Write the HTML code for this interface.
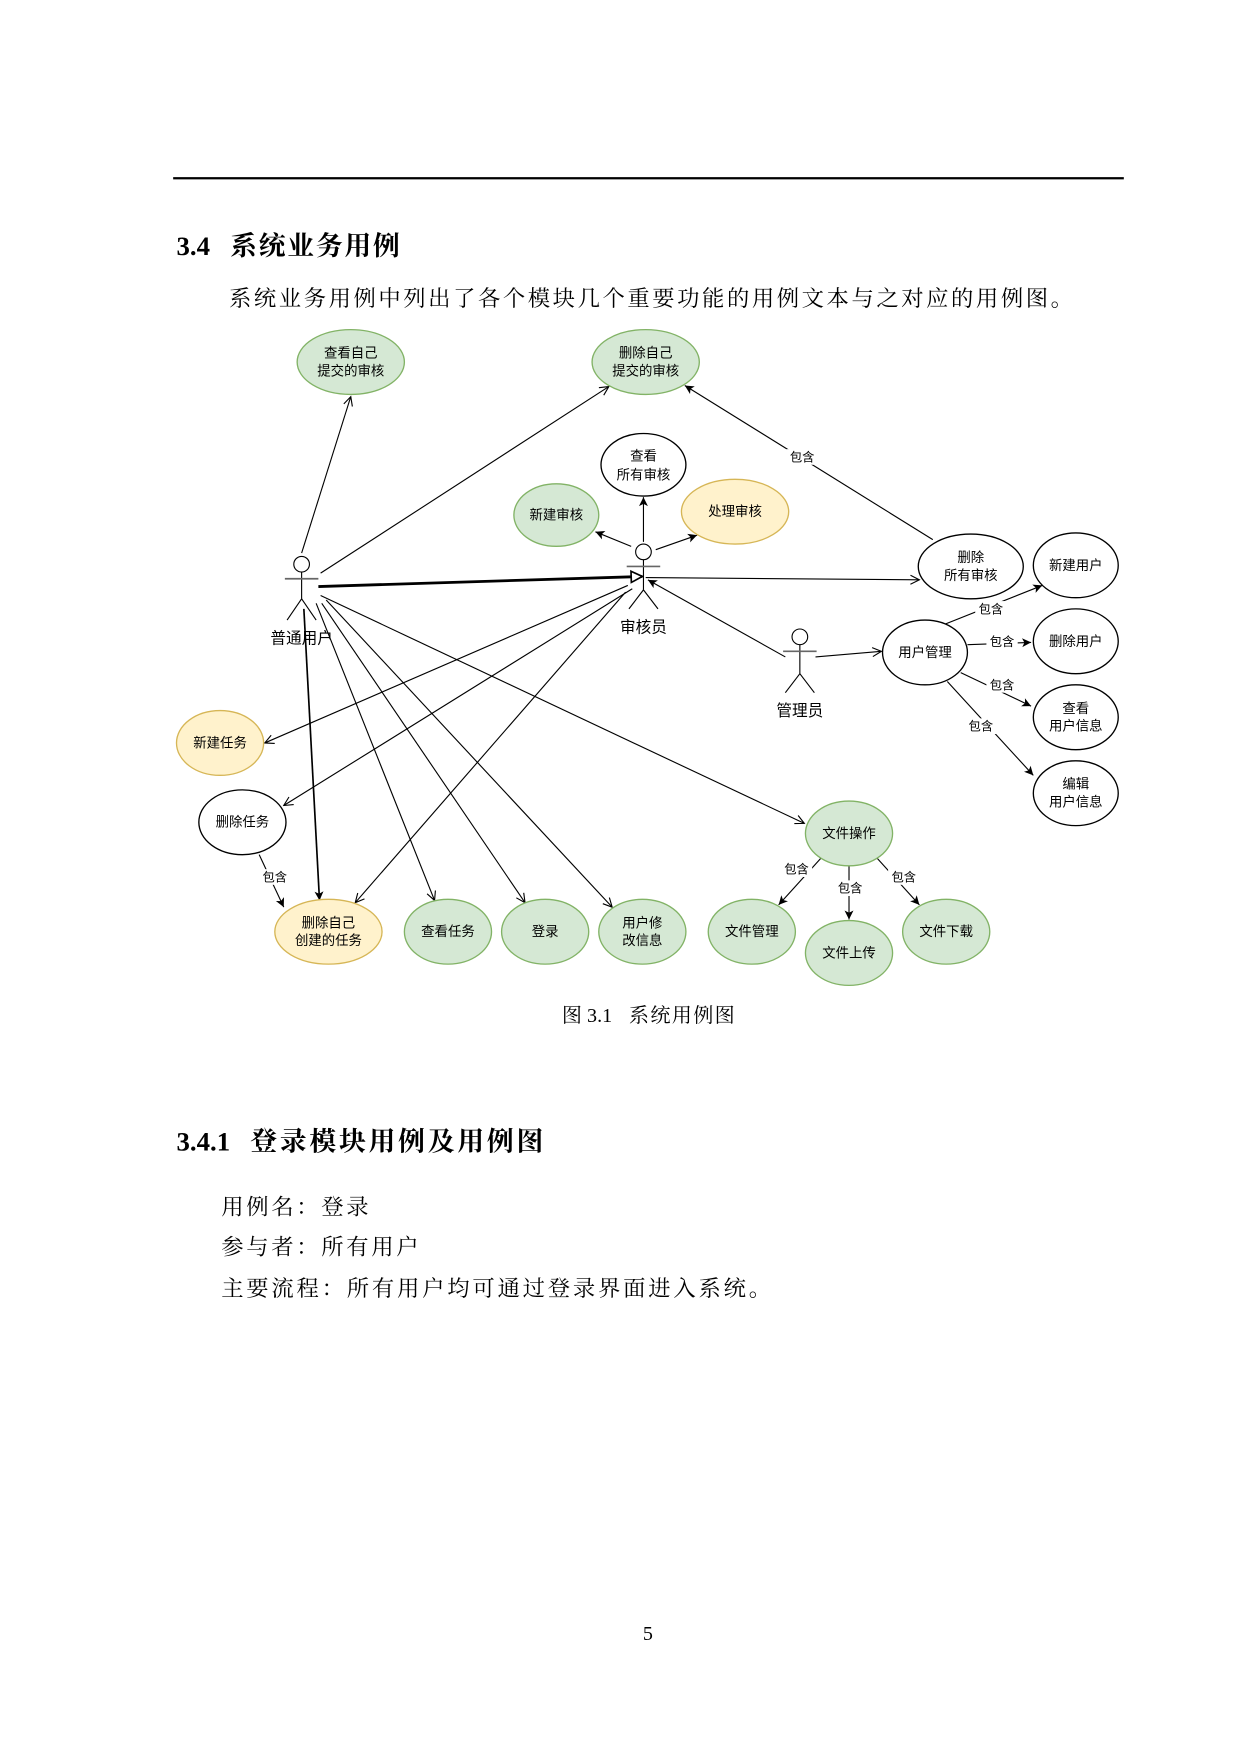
<!DOCTYPE html>
<html><head><meta charset="utf-8"><style>
html,body{margin:0;padding:0;background:#fff;}
svg{display:block;}
text{font-family:"Liberation Serif","Noto Serif CJK SC","Noto Sans CJK SC",serif;fill:#000;white-space:pre;}
.n{font-family:"Liberation Sans","Noto Sans CJK SC",sans-serif;font-size:12px;text-anchor:middle;}
.l{font-family:"Liberation Sans","Noto Sans CJK SC",sans-serif;font-size:11px;text-anchor:middle;}
.g{fill:#d5e8d4;stroke:#82b366;stroke-width:1.2;}
.y{fill:#fff2cc;stroke:#d6b656;stroke-width:1.2;}
.w{fill:#fff;stroke:#000;stroke-width:1.2;}
.e{stroke:#000;stroke-width:1;fill:none;}
</style></head><body>
<svg width="1240" height="1754" viewBox="0 0 1110 1570" xmlns="http://www.w3.org/2000/svg" xml:space="preserve">
<defs>
<marker id="a" markerWidth="10" markerHeight="10" refX="9" refY="5" orient="auto" markerUnits="userSpaceOnUse"><path d="M1,1 L9,5 L1,9" fill="none" stroke="#000" stroke-width="1"/></marker>
<marker id="f" markerWidth="10" markerHeight="10" refX="9" refY="5" orient="auto" markerUnits="userSpaceOnUse"><path d="M1,1 L9,5 L1,9 L3,5 Z" fill="#000"/></marker>
<marker id="t" markerWidth="14" markerHeight="14" refX="12" refY="7" orient="auto" markerUnits="userSpaceOnUse"><path d="M2,2 L12,7 L2,12 Z" fill="#fff" stroke="#000" stroke-width="1.5"/></marker>
</defs>
<line x1="155" y1="159.5" x2="1006" y2="159.5" stroke="#000" stroke-width="2"/>
<text x="158" y="228" font-size="24" font-weight="bold">3.4</text><text x="206" y="228" font-size="24" font-weight="bold" letter-spacing="1.6">系统业务用例</text>
<text x="205" y="274" font-size="20" letter-spacing="2.3">系统业务用例中列出了各个模块几个重要功能的用例文本与之对应的用例图。</text>

<g class="e">
<line x1="270" y1="495" x2="314" y2="355" marker-end="url(#a)"/>
<line x1="287" y1="513" x2="545" y2="346" marker-end="url(#a)"/>
<line x1="835" y1="483" x2="613" y2="345" marker-end="url(#f)"/>
<line x1="285" y1="525" x2="575" y2="516" stroke-width="2.5" marker-end="url(#t)"/>
<line x1="578" y1="517" x2="823" y2="519" marker-end="url(#a)"/>
<line x1="576" y1="485" x2="576" y2="445" marker-end="url(#f)"/>
<line x1="565" y1="489" x2="533" y2="476" marker-end="url(#f)"/>
<line x1="587" y1="492" x2="624" y2="479" marker-end="url(#f)"/>
<line x1="703" y1="588" x2="580" y2="519" marker-end="url(#f)"/>
<line x1="730" y1="588" x2="789" y2="583" marker-end="url(#a)"/>
<line x1="835" y1="563" x2="933" y2="524" marker-end="url(#f)"/>
<line x1="866" y1="577" x2="923" y2="575" marker-end="url(#f)"/>
<line x1="860" y1="602" x2="923" y2="632" marker-end="url(#f)"/>
<line x1="848" y1="610" x2="925" y2="694" marker-end="url(#f)"/>
<line x1="562" y1="524" x2="237" y2="665" marker-end="url(#a)"/>
<line x1="566" y1="527" x2="254" y2="721" marker-end="url(#a)"/>
<line x1="560" y1="530" x2="318" y2="808" marker-end="url(#a)"/>
<line x1="272" y1="545" x2="286" y2="806" stroke-width="1.5" marker-end="url(#f)"/>
<line x1="283" y1="540" x2="389" y2="806" marker-end="url(#a)"/>
<line x1="288" y1="540" x2="470" y2="808" marker-end="url(#a)"/>
<line x1="292" y1="537" x2="548" y2="812" marker-end="url(#a)"/>
<line x1="287" y1="533" x2="720" y2="737" marker-end="url(#a)"/>
<line x1="232" y1="765" x2="254" y2="812" marker-end="url(#f)"/>
<line x1="735" y1="768" x2="697" y2="810" marker-end="url(#f)"/>
<line x1="760" y1="775" x2="760" y2="823" marker-end="url(#f)"/>
<line x1="785" y1="768" x2="823" y2="810" marker-end="url(#f)"/>
</g>
<g fill="#fff">
<rect x="704" y="402" width="28" height="14"/><text class="l" x="718" y="413">包含</text>
<rect x="873" y="538" width="28" height="14"/><text class="l" x="887" y="549">包含</text>
<rect x="883" y="567" width="28" height="14"/><text class="l" x="897" y="578">包含</text>
<rect x="883" y="606" width="28" height="14"/><text class="l" x="897" y="617">包含</text>
<rect x="864" y="643" width="28" height="14"/><text class="l" x="878" y="654">包含</text>
<rect x="232" y="778" width="28" height="14"/><text class="l" x="246" y="789">包含</text>
<rect x="699" y="771" width="28" height="14"/><text class="l" x="713" y="782">包含</text>
<rect x="747" y="788" width="28" height="14"/><text class="l" x="761" y="799">包含</text>
<rect x="795" y="778" width="28" height="14"/><text class="l" x="809" y="789">包含</text>
</g>

<ellipse class="g" cx="314" cy="324" rx="48" ry="29"/><text class="n" x="314" y="320">查看自己</text><text class="n" x="314" y="336">提交的审核</text>
<ellipse class="g" cx="578" cy="324" rx="48" ry="29"/><text class="n" x="578" y="320">删除自己</text><text class="n" x="578" y="336">提交的审核</text>
<ellipse class="w" cx="576" cy="416" rx="38" ry="28"/><text class="n" x="576" y="412">查看</text><text class="n" x="576" y="429">所有审核</text>
<ellipse class="g" cx="498" cy="461" rx="38" ry="28"/><text class="n" x="498" y="465">新建审核</text>
<ellipse class="y" cx="658" cy="458" rx="48" ry="29"/><text class="n" x="658" y="462">处理审核</text>
<ellipse class="w" cx="869" cy="507" rx="47" ry="29"/><text class="n" x="869" y="503">删除</text><text class="n" x="869" y="519">所有审核</text>
<ellipse class="w" cx="963" cy="506" rx="38" ry="29"/><text class="n" x="963" y="510">新建用户</text>
<ellipse class="w" cx="828" cy="584" rx="38" ry="29"/><text class="n" x="828" y="588">用户管理</text>
<ellipse class="w" cx="963" cy="574" rx="38" ry="29"/><text class="n" x="963" y="578">删除用户</text>
<ellipse class="w" cx="963" cy="642" rx="38" ry="29"/><text class="n" x="963" y="638">查看</text><text class="n" x="963" y="654">用户信息</text>
<ellipse class="w" cx="963" cy="710" rx="38" ry="29"/><text class="n" x="963" y="706">编辑</text><text class="n" x="963" y="722">用户信息</text>
<ellipse class="g" cx="760" cy="746" rx="39" ry="29"/><text class="n" x="760" y="750">文件操作</text>
<ellipse class="g" cx="673" cy="834" rx="39" ry="29"/><text class="n" x="673" y="838">文件管理</text>
<ellipse class="g" cx="760" cy="853" rx="39" ry="29"/><text class="n" x="760" y="857">文件上传</text>
<ellipse class="g" cx="847" cy="834" rx="39" ry="29"/><text class="n" x="847" y="838">文件下载</text>
<ellipse class="y" cx="197" cy="665" rx="39" ry="29"/><text class="n" x="197" y="669">新建任务</text>
<ellipse class="w" cx="217" cy="736" rx="39" ry="29"/><text class="n" x="217" y="740">删除任务</text>
<ellipse class="y" cx="294" cy="834" rx="48" ry="29"/><text class="n" x="294" y="830">删除自己</text><text class="n" x="294" y="846">创建的任务</text>
<ellipse class="g" cx="401" cy="834" rx="39" ry="29"/><text class="n" x="401" y="838">查看任务</text>
<ellipse class="g" cx="488" cy="834" rx="39" ry="29"/><text class="n" x="488" y="838">登录</text>
<ellipse class="g" cx="575" cy="834" rx="39" ry="29"/><text class="n" x="575" y="830">用户修</text><text class="n" x="575" y="846">改信息</text>

<g stroke="#000" stroke-width="1" fill="#fff">
<circle cx="270" cy="505" r="7"/><line x1="270" y1="512" x2="270" y2="536"/><line x1="255" y1="518" x2="285" y2="518" stroke="#666" stroke-width="1.5"/><line x1="270" y1="536" x2="257" y2="555"/><line x1="270" y1="536" x2="283" y2="555"/>
<circle cx="576" cy="494" r="7"/><line x1="576" y1="501" x2="576" y2="528"/><line x1="561" y1="507" x2="591" y2="507" stroke="#666" stroke-width="1.5"/><line x1="576" y1="528" x2="563" y2="545"/><line x1="576" y1="528" x2="589" y2="545"/>
<circle cx="716" cy="570" r="7"/><line x1="716" y1="577" x2="716" y2="603"/><line x1="701" y1="583" x2="731" y2="583" stroke="#666" stroke-width="1.5"/><line x1="716" y1="603" x2="703" y2="620"/><line x1="716" y1="603" x2="729" y2="620"/>
</g>
<text class="n" style="font-size:14px" x="270" y="576">普通用户</text>
<text class="n" style="font-size:14px" x="576" y="566">审核员</text>
<text class="n" style="font-size:14px" x="716" y="641">管理员</text>

<text x="503" y="915" font-size="18">图 3.1</text><text x="563" y="915" font-size="18" letter-spacing="1.2">系统用例图</text>
<text x="158" y="1030" font-size="24" font-weight="bold">3.4.1</text><text x="224" y="1030" font-size="24" font-weight="bold" letter-spacing="2.5">登录模块用例及用例图</text>
<text x="198" y="1087" font-size="20" letter-spacing="2.4">用例名：登录</text>
<text x="198" y="1123" font-size="20" letter-spacing="2.4">参与者：所有用户</text>
<text x="198" y="1160" font-size="20" letter-spacing="2.5">主要流程：所有用户均可通过登录界面进入系统。</text>
<text x="580" y="1468" font-size="18" text-anchor="middle">5</text>
</svg>
</body></html>
